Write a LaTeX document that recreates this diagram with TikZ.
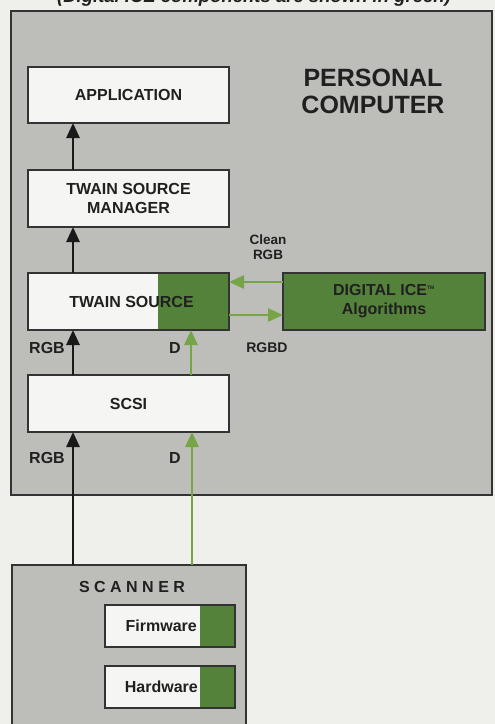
\documentclass[tikz,border=0pt]{standalone}
\usepackage{fontspec}
\setmainfont{Liberation Sans}
\usetikzlibrary{arrows.meta}
\definecolor{pagebg}{HTML}{EFEFEC}
\definecolor{pcgrey}{HTML}{BDBEB9}
\definecolor{boxwhite}{HTML}{F5F5F3}
\definecolor{bordc}{HTML}{333333}
\definecolor{icegreen}{HTML}{55823A}
\definecolor{arrgreen}{HTML}{76A548}
\definecolor{txt}{HTML}{202020}
\tikzset{
  every node/.style={text=txt},
  encl/.style={draw=bordc, line width=2pt, fill=pcgrey, inner sep=0pt, outer sep=0pt},
  wbox/.style={draw=bordc, line width=2pt, fill=boxwhite, inner sep=0pt, outer sep=0pt,
    font=\bfseries\fontsize{16}{19}\selectfont, align=center},
  gbox/.style={draw=bordc, line width=2pt, fill=icegreen, inner sep=0pt, outer sep=0pt,
    font=\bfseries\fontsize{16}{19}\selectfont, align=center},
  greentail/.style={path picture={\fill[icegreen] (path picture bounding box.south east) rectangle ([xshift=-#1]path picture bounding box.north east);}},
  lbl/.style={font=\bfseries\fontsize{16}{19}\selectfont, inner sep=0pt},
  smalllbl/.style={font=\bfseries\fontsize{13.5}{15}\selectfont, inner sep=0pt, align=center},
  blkarrow/.style={draw=black!90, line width=2.8pt, -{Triangle[width=13pt,length=15pt]}},
  grnarrow/.style={draw=arrgreen, line width=2.8pt, -{Triangle[width=13pt,length=15pt]}},
}
\begin{document}
\begin{tikzpicture}[x=1pt,y=-1pt]
\useasboundingbox (0,0) rectangle (495,724);
\clip (0,0) rectangle (495,724);
\fill[pagebg] (0,0) rectangle (495,724);
% caption (cut off at top)
\node[font=\bfseries\itshape\fontsize{18.5}{20}\selectfont, anchor=base, inner sep=0pt] (cap) at (254,2.5) {(Digital ICE components are shown in green)};
% personal computer enclosure
\node[encl, minimum width=481pt, minimum height=484pt] (pc) at (251.5,253) {};
\node[font=\bfseries\fontsize{25}{27}\selectfont, align=center, inner sep=0pt] (pclabel) at (373,91) {PERSONAL\\COMPUTER};
% boxes
\node[wbox, minimum width=201pt, minimum height=56pt] (app) at (128.5,95) {APPLICATION};
\node[wbox, minimum width=201pt, minimum height=57pt] (tsm) at (128.5,198.5) {TWAIN SOURCE\\MANAGER};
\node[wbox, greentail=71pt, minimum width=201pt, minimum height=57pt] (ts) at (128.5,301.5) {\hspace*{6pt}TWAIN SOURCE};
\node[wbox, minimum width=201pt, minimum height=57pt] (scsi) at (128.5,403.5) {SCSI};
\node[gbox, minimum width=202pt, minimum height=57pt] (ice) at (384,301.5) {DIGITAL ICE\textsuperscript{\tiny TM}\\Algorithms};
% scanner
\node[encl, minimum width=234pt, minimum height=200pt] (scanner) at (129,665) {};
\node[lbl, font=\bfseries\fontsize{16}{19}\selectfont\addfontfeature{LetterSpace=28}] (scanlbl) at (132,587) {SCANNER};
\node[wbox, greentail=35pt, minimum width=130pt, minimum height=42pt] (fw) at (170,626) {};
\node[lbl, anchor=east] (fwt) at ([xshift=-38pt]fw.east) {Firmware};
\node[wbox, greentail=35pt, minimum width=130pt, minimum height=42pt] (hw) at (170,687) {};
\node[lbl, anchor=east] (hwt) at ([xshift=-37pt]hw.east) {Hardware};
% labels
\node[smalllbl] (cleanrgb) at (268,247) {Clean\\RGB};
\node[smalllbl, font=\bfseries\fontsize{14}{15}\selectfont] (rgbd) at (267,348) {RGBD};
\node[lbl] (rgb1) at (47,348) {RGB};
\node[lbl] (d1) at (175,348) {D};
\node[lbl] (rgb2) at (47,458) {RGB};
\node[lbl] (d2) at (175,458) {D};
% arrows
\draw[blkarrow] ([xshift=-55.5pt]tsm.north) -- ([xshift=-55.5pt]app.south);
\draw[blkarrow] ([xshift=-55.5pt]ts.north) -- ([xshift=-55.5pt]tsm.south);
\draw[blkarrow] ([xshift=-55.5pt]scsi.north) -- ([xshift=-55.5pt]ts.south);
\draw[grnarrow] ([xshift=62.5pt]scsi.north) -- ([xshift=62.5pt]ts.south);
\draw[blkarrow] ([xshift=-55.5pt]scsi.south |- scanner.north) -- ([xshift=-55.5pt]scsi.south);
\draw[grnarrow] ([xshift=63.5pt]scsi.south |- scanner.north) -- ([xshift=63.5pt]scsi.south);
\draw[grnarrow] ([yshift=19.5pt]ice.west) -- ([yshift=19.5pt]ts.east);
\draw[grnarrow] ([yshift=-13.5pt]ts.east) -- ([yshift=-13.5pt]ice.west);
\end{tikzpicture}
\end{document}
